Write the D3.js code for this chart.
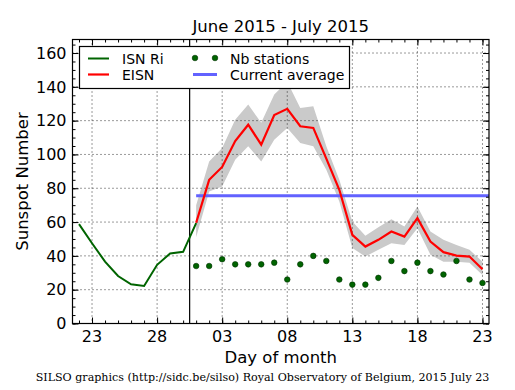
<!DOCTYPE html>
<html><head><meta charset="utf-8">
<script src="https://cdn.jsdelivr.net/npm/d3@7"></script>
<style>body{margin:0;background:#fff}svg{display:block}</style>
</head><body>
<svg id="c" width="515" height="390"></svg>
<script>
// Day index: June d = d, July d = 30 + d
const isnDays = [22,23,24,25,26,27,28,29,30,31];
const isnValues = [58.8,47.5,36.6,28.1,23.2,22.2,34.7,41.4,42.4,59.4];
const eisnDays = [31,32,33,34,35,36,37,38,39,40,41,42,43,44,45,46,47,48,49,50,51,52,53];
const eisnValues = [59.6,85,92.6,107.9,117.6,105.8,123.3,127,116.7,115.7,97.5,79.1,52.4,45.5,49.5,54.4,51.4,62.3,48.5,42.2,40.2,39.6,32.1];
const eisnUpper = [70,95.9,103.8,120.6,129.5,118.8,135.4,143,127.5,128.5,104.8,85,60.3,51.9,57,61.7,57.4,69.2,54.4,49.5,46.5,43.6,36.6];
const eisnLower = [51,78.1,81,96.9,104.8,95.9,108.7,115.7,106.8,104.8,91,72.2,44.7,39.6,43.6,47.5,46.5,56.4,40.6,36.6,36.6,36,28.7];
const stations = [34,34,38,35,35,35,36,26,35,40,37,26,23,23,27,37,31,36,31,29,37,26,24];
const currentAverage = 75.6;
const averageStart = 31;
const lastRiDay = 30.5;
const xTickValues = [23,28,33,38,43,48,53];
const xTickLabels = ["23","28","03","08","13","18","23"];
const yTickValues = [0,20,40,60,80,100,120,140,160];
const xDomain = [21.5,53.5];
const yDomain = [0,168];

const svg = d3.select("#c");
const L=72.5,R=489,T=39.5,B=323.5;
const x = d3.scaleLinear().domain(xDomain).range([L,R]);
const y = d3.scaleLinear().domain(yDomain).range([B,T]);
const font = "'DejaVu Sans', sans-serif";

// band
const band = eisnDays.map((d,i)=>({d,u:eisnUpper[i],l:eisnLower[i]}));
svg.append("path").datum(band)
  .attr("d", d3.area().x(p=>x(p.d)).y0(p=>y(p.l)).y1(p=>y(p.u)))
  .attr("fill","#cacaca").attr("stroke","none");

// grid
const grid = svg.append("g").attr("stroke","#000").attr("stroke-width",0.8).attr("stroke-dasharray","1,3");
xTickValues.forEach(v=>grid.append("line").attr("x1",x(v)).attr("x2",x(v)).attr("y1",T).attr("y2",B));
yTickValues.filter(v=>v>0).forEach(v=>grid.append("line").attr("x1",L).attr("x2",R).attr("y1",y(v)).attr("y2",y(v)));

// vertical separator
svg.append("line").attr("x1",x(lastRiDay)).attr("x2",x(lastRiDay)).attr("y1",T).attr("y2",B)
  .attr("stroke","#000").attr("stroke-width",1.2);

// current average
svg.append("line").attr("x1",x(averageStart)).attr("x2",R).attr("y1",y(currentAverage)).attr("y2",y(currentAverage))
  .attr("stroke","#6262ff").attr("stroke-width",3);

// ISN line
const line = d3.line().x(p=>x(p[0])).y(p=>y(p[1]));
svg.append("path").datum(isnDays.map((d,i)=>[d,isnValues[i]])).attr("d",line)
  .attr("fill","none").attr("stroke","#006400").attr("stroke-width",2);
// EISN
svg.append("path").datum(eisnDays.map((d,i)=>[d,eisnValues[i]])).attr("d",line)
  .attr("fill","none").attr("stroke","#ff0000").attr("stroke-width",2.2);
// stations
svg.append("g").selectAll("circle").data(eisnDays.map((d,i)=>[d,stations[i]])).join("circle")
  .attr("cx",p=>x(p[0])).attr("cy",p=>y(p[1])).attr("r",2.8)
  .attr("fill","#006400").attr("stroke","#003000").attr("stroke-width",0.6);

// axes (inward ticks, all sides)
const ax = svg.append("g");
function xt(g, major){
  g.call(d3.axisBottom(x).tickValues(major?xTickValues:d3.range(22,54)).tickSize(major?-6:-3).tickFormat(""))
   .call(s=>s.select(".domain").remove());
}
ax.append("g").attr("transform",`translate(0,${B})`).call(g=>xt(g,true));
ax.append("g").attr("transform",`translate(0,${B})`).call(g=>xt(g,false));
ax.append("g").attr("transform",`translate(0,${T})`).call(g=>g.call(d3.axisTop(x).tickValues(xTickValues).tickSize(-6).tickFormat("")).select(".domain").remove());
ax.append("g").attr("transform",`translate(0,${T})`).call(g=>g.call(d3.axisTop(x).tickValues(d3.range(22,54)).tickSize(-3).tickFormat("")).select(".domain").remove());
ax.append("g").attr("transform",`translate(${L},0)`).call(g=>g.call(d3.axisLeft(y).tickValues(yTickValues).tickSize(-6).tickFormat("")).select(".domain").remove());
ax.append("g").attr("transform",`translate(${L},0)`).call(g=>g.call(d3.axisLeft(y).tickValues(d3.range(0,166,5)).tickSize(-3).tickFormat("")).select(".domain").remove());
ax.append("g").attr("transform",`translate(${R},0)`).call(g=>g.call(d3.axisRight(y).tickValues(yTickValues).tickSize(-6).tickFormat("")).select(".domain").remove());
ax.append("g").attr("transform",`translate(${R},0)`).call(g=>g.call(d3.axisRight(y).tickValues(d3.range(0,166,5)).tickSize(-3).tickFormat("")).select(".domain").remove());
ax.selectAll("line").attr("stroke","#000").attr("stroke-width",1);

svg.append("rect").attr("x",L).attr("y",T).attr("width",R-L).attr("height",B-T)
  .attr("fill","none").attr("stroke","#000").attr("stroke-width",1.2);

// tick labels
svg.append("g").selectAll("text").data(xTickValues).join("text")
  .attr("x",d=>x(d)).attr("y",B+18).attr("text-anchor","middle")
  .attr("font-family",font).attr("font-size",16).text((d,i)=>xTickLabels[i]);
svg.append("g").selectAll("text").data(yTickValues).join("text")
  .attr("x",L-6).attr("y",d=>y(d)+5.8).attr("text-anchor","end")
  .attr("font-family",font).attr("font-size",16).text(d=>d);

// titles
svg.append("text").attr("x",(L+R)/2).attr("y",32).attr("text-anchor","middle")
  .attr("font-family",font).attr("font-size",16.5).text("June 2015 - July 2015");
svg.append("text").attr("x",(L+R)/2).attr("y",363).attr("text-anchor","middle")
  .attr("font-family",font).attr("font-size",16.5).text("Day of month");
svg.append("text").attr("transform",`translate(28,${(T+B)/2}) rotate(-90)`).attr("text-anchor","middle")
  .attr("font-family",font).attr("font-size",16.5).text("Sunspot Number");
svg.append("text").attr("x",262.5).attr("y",381).attr("text-anchor","middle")
  .attr("font-family","'DejaVu Serif', serif").attr("font-size",11.1)
  .text("SILSO graphics (http://sidc.be/silso) Royal Observatory of Belgium, 2015 July 23");

// legend
const lg = svg.append("g");
lg.append("rect").attr("x",79.5).attr("y",46.5).attr("width",270).attr("height",42)
  .attr("fill","#fff").attr("stroke","#000").attr("stroke-width",1.2);
const lf = 14;
lg.append("line").attr("x1",88).attr("x2",109).attr("y1",58.5).attr("y2",58.5).attr("stroke","#006400").attr("stroke-width",2);
lg.append("text").attr("x",122).attr("y",63.5).attr("font-family",font).attr("font-size",lf).text("ISN Ri");
lg.append("line").attr("x1",88).attr("x2",109).attr("y1",74.5).attr("y2",74.5).attr("stroke","#ff0000").attr("stroke-width",2.2);
lg.append("text").attr("x",122).attr("y",79.5).attr("font-family",font).attr("font-size",lf).text("EISN");
[195,215].forEach(cx=>lg.append("circle").attr("cx",cx).attr("cy",58).attr("r",2.8).attr("fill","#006400").attr("stroke","#003000").attr("stroke-width",0.6));
lg.append("text").attr("x",230).attr("y",63.5).attr("font-family",font).attr("font-size",lf).text("Nb stations");
lg.append("line").attr("x1",193).attr("x2",217).attr("y1",74.5).attr("y2",74.5).attr("stroke","#6262ff").attr("stroke-width",3);
lg.append("text").attr("x",230).attr("y",79.5).attr("font-family",font).attr("font-size",lf).text("Current average");
</script>
</body></html>
